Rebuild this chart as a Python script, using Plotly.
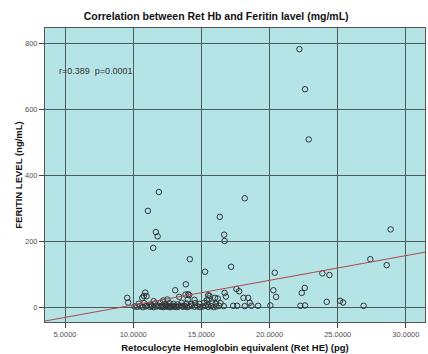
import plotly.graph_objects as go
import numpy as np

# Scatter data: Ret HE (pg) vs Ferritin (ng/mL)
ret_he = [
    # high values
    22.19, 22.60, 22.87, 11.88, 11.08, 11.66, 11.79, 11.47, 14.15, 15.27, 16.35, 18.18,
    16.67, 16.70, 17.18, 20.38, 27.39, 28.59, 23.87, 24.39, 28.88, 13.86,
    # mid values
    9.56, 10.66, 10.78, 10.98, 10.88, 13.08, 13.37, 13.84, 14.04, 14.10, 15.40, 15.50,
    15.60, 15.55, 16.00, 16.70, 16.80, 17.57, 17.77, 18.09, 18.43, 16.20, 12.20, 12.50,
    14.50, 11.50, 14.00, 20.28, 20.48, 22.36, 22.58, 24.19, 25.17, 25.39, 18.55, 9.63,
    # second row near bottom
    10.40, 10.80, 11.30, 11.60, 12.00, 12.35, 12.65, 12.95, 13.25, 13.55, 13.90, 14.25,
    14.55, 14.85, 15.20, 15.45, 15.80, 16.05, 16.40,
    # bottom row
    10.10, 10.30, 10.50, 10.70, 10.90, 11.00, 11.20, 11.35, 11.50, 11.70, 11.85, 12.00,
    12.10, 12.20, 12.30, 12.40, 12.50, 12.60, 12.70, 12.80, 12.90, 13.00, 13.10, 13.20,
    13.35, 13.50, 13.65, 13.80, 13.95, 14.10, 14.30, 14.50, 14.70, 14.90, 15.10, 15.30,
    15.50, 15.70, 15.90, 16.10, 16.30, 16.64, 17.33, 17.62, 18.18, 18.67, 19.16, 20.06,
    22.26, 22.60, 26.90,
]
ferritin = [
    782, 661, 509, 350, 293, 229, 216, 181, 147, 109, 275, 331,
    221, 202, 124, 106, 147, 129, 104, 99, 237, 71,
    30, 30, 36, 35, 46, 53, 33, 40, 41, 38, 23, 38,
    36, 28, 30, 45, 34, 57, 50, 30, 30, 28, 22, 25,
    24, 20, 25, 53, 33, 45, 60, 18, 21, 16, 15, 16,
    12, 14, 10, 13, 15, 11, 14, 12, 10, 15, 13, 11,
    14, 12, 15, 10, 13, 12, 14,
    4, 3, 5, 2, 4, 6, 3, 5, 2, 4, 6, 3,
    5, 2, 4, 6, 3, 5, 2, 4, 6, 3, 5, 2,
    4, 6, 3, 5, 2, 4, 6, 3, 5, 2, 4, 6,
    3, 5, 2, 4, 6, 5, 6, 6, 5, 6, 6, 7,
    6, 7, 6,
]

x_ticks = [5, 10, 15, 20, 25, 30]
y_ticks = [0, 200, 400, 600, 800]

# fitted line parameters
fit_intercept = -66.4
fit_slope = 7.47
x_range = [3.53, 31.4]
y_range = [-43, 846]

fit_x = np.array(x_range)
fit_y = fit_intercept + fit_slope * fit_x

fig = go.Figure()
fig.add_trace(go.Scatter(
    x=ret_he, y=ferritin, mode="markers",
    marker=dict(symbol="circle-open", size=5.5, color="#333333", line=dict(width=1)),
    showlegend=False, hoverinfo="x+y",
))
fig.add_trace(go.Scatter(
    x=fit_x, y=fit_y, mode="lines",
    line=dict(color="#b04848", width=1),
    showlegend=False, hoverinfo="skip",
))

axis_common = dict(
    showgrid=True, gridcolor="#4d5a5a", gridwidth=1.2,
    showline=True, linecolor="#555555", linewidth=1, mirror=True,
    ticks="outside", ticklen=5, tickcolor="#444444",
    tickfont=dict(family="Arial, Liberation Sans", size=7.5, color="#505050"),
    zeroline=False,
)

fig.update_layout(
    width=428, height=354,
    margin=dict(l=45, r=3, t=28, b=32),
    paper_bgcolor="white",
    plot_bgcolor="#b4e4e6",
    title=dict(
        text="<b>Correlation between Ret Hb and Feritin lavel (mg/mL)</b>",
        x=0.505, xanchor="center", y=0.955, yanchor="middle",
        font=dict(family="Arial, Liberation Sans", size=10.5, color="#111111"),
    ),
    xaxis=dict(
        range=x_range, tickvals=x_ticks, tickformat=".4f",
        title=dict(text="<b>Retoculocyte Hemoglobin equivalent (Ret HE) (pg)</b>",
                   font=dict(family="Arial, Liberation Sans", size=9.5, color="#111111"),
                   standoff=6),
        **axis_common,
    ),
    yaxis=dict(
        range=y_range, tickvals=y_ticks,
        title=dict(text="<b>FERITIN LEVEL (ng/mL)</b>",
                   font=dict(family="Arial, Liberation Sans", size=9.5, color="#111111"),
                   standoff=0),
        **axis_common,
    ),
    annotations=[dict(
        text="r=0.389  p=0.0001", x=4.4, y=715, xref="x", yref="y",
        xanchor="left", yanchor="middle", showarrow=False,
        font=dict(family="Arial, Liberation Sans", size=9, color="#333333"),
    )],
)

fig.write_html("out.html")
